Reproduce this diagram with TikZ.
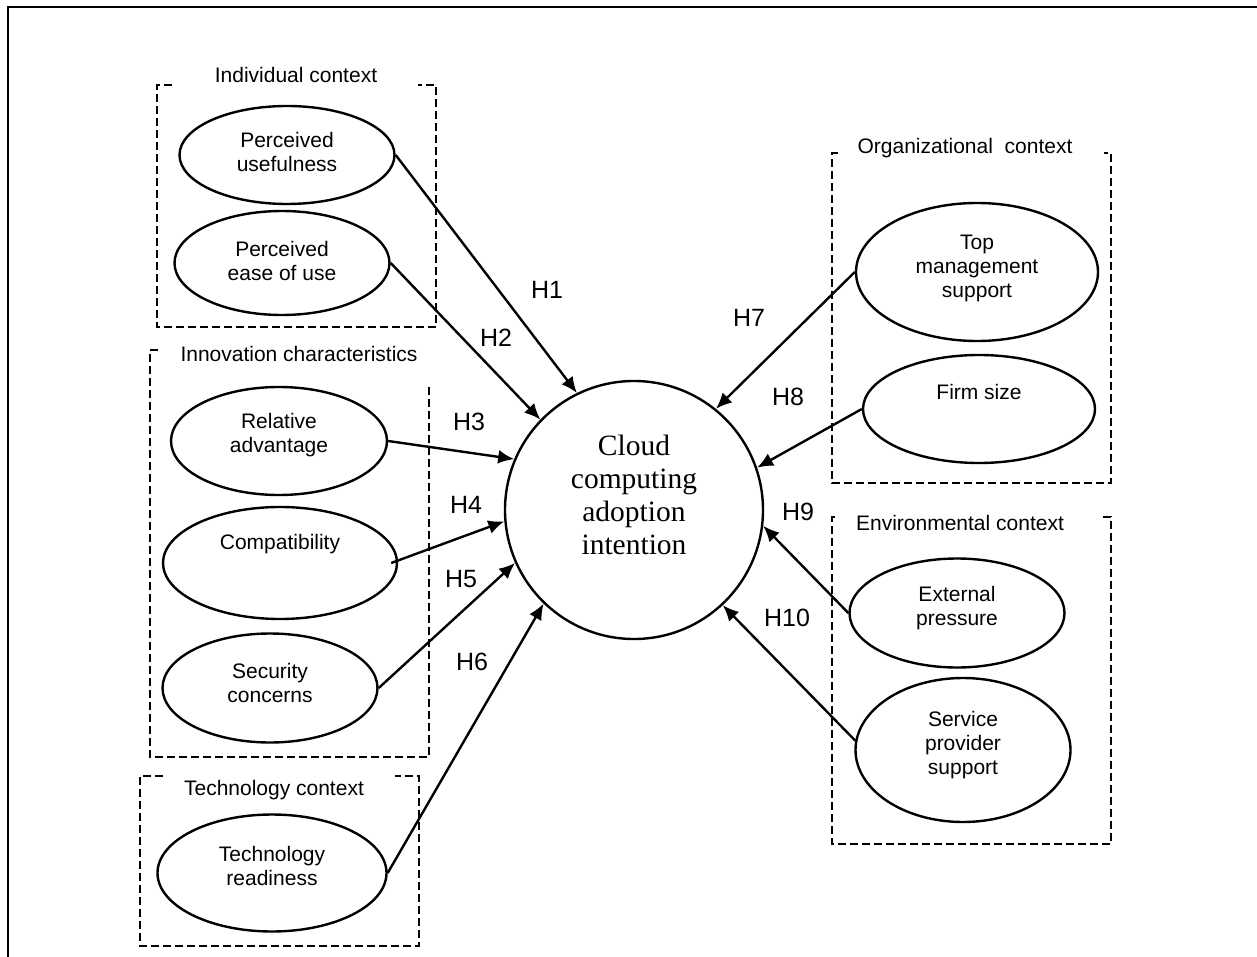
\documentclass[tikz,border=0pt]{standalone}
\usepackage{fontspec}
\setmainfont{Liberation Sans}
\newfontfamily\timesfont{Liberation Serif}
\usetikzlibrary{arrows.meta,shapes.geometric}
\tikzset{
  ell/.style={draw, ellipse, line width=2.4pt, inner sep=0pt},
  etext/.style={align=center, inner sep=0pt, font=\fontsize{21}{24}\selectfont},
  hlab/.style={inner sep=0pt, font=\fontsize{25}{29}\selectfont},
  grp/.style={line width=2.4pt, dash pattern=on 8pt off 4pt},
  glab/.style={inner sep=0pt, font=\fontsize{21}{24}\selectfont},
  conn/.style={line width=2.4pt, -{Latex[length=16pt,width=14pt]}},
}
\begin{document}
\begin{tikzpicture}[x=1pt,y=-1pt]
\useasboundingbox (0,0) rectangle (1257,957);
% outer frame (open)
\draw[line width=2.8pt] (8,957) -- (8,7) -- (1257,7);

% group boxes
\draw[grp] (172,85) -- (157,85) -- (157,327) -- (436,327) -- (436,85) -- (418,85);
\node[glab] (lind) at (296,75) {Individual context};
\draw[grp] (158,350) -- (150,350) -- (150,757) -- (429,757) -- (429,387);
\node[glab] (linn) at (299,354) {Innovation characteristics};
\draw[grp] (163,776) -- (140,776) -- (140,946) -- (419,946) -- (419,776) -- (395,776);
\node[glab] (ltec) at (274,790) {Technology context};
\draw[grp] (838,153) -- (832,153) -- (832,483) -- (1111,483) -- (1111,153) -- (1104,153);
\node[glab] (lorg) at (965,148) {Organizational\ \ context};
\draw[grp] (835,517) -- (832,517) -- (832,844) -- (1111,844) -- (1111,517) -- (1101,517);
\node[glab] (lenv) at (960,523) {Environmental context};

% central construct
\node[draw, circle, line width=2.4pt, minimum size=258pt, inner sep=0pt] (cc) at (634,510) {};
\node[align=center, inner sep=0pt, font=\timesfont\fontsize{29.5}{33}\selectfont] (cct) at (634,495) {Cloud\\computing\\adoption\\intention};

% ellipses
\node[ell, minimum width=215pt, minimum height=98pt] (pu) at (287,155) {};
\node[etext] (put) at (287,152) {Perceived\\usefulness};
\node[ell, minimum width=215pt, minimum height=104pt] (pe) at (282,263) {};
\node[etext] (pet) at (282,261) {Perceived\\ease of use};
\node[ell, minimum width=216pt, minimum height=108pt] (ra) at (279,441) {};
\node[etext] (rat) at (279,435) {Relative\\advantage};
\node[ell, minimum width=234pt, minimum height=112pt] (cp) at (280,563) {};
\node[etext] (cpt) at (280,544) {Compatibility};
\node[ell, minimum width=215pt, minimum height=109pt] (sc) at (270,688) {};
\node[etext] (sct) at (270,683) {Security\\concerns};
\node[ell, minimum width=229pt, minimum height=117pt] (tr) at (272,873) {};
\node[etext] (trt) at (272,866) {Technology\\readiness};
\node[ell, minimum width=242pt, minimum height=138pt] (tm) at (977,272) {};
\node[etext] (tmt) at (977,268) {Top\\management\\support};
\node[ell, minimum width=232pt, minimum height=108pt] (fs) at (979,409) {};
\node[etext] (fst) at (979,392) {Firm size};
\node[ell, minimum width=215pt, minimum height=109pt] (ep) at (957,613) {};
\node[etext] (ept) at (957,608) {External\\pressure};
\node[ell, minimum width=215pt, minimum height=144pt] (sp) at (963,750) {};
\node[etext] (spt) at (963,745) {Service\\provider\\support};

% connectors
\draw[conn] (pu.east) -- (cc.116.6);
\draw[conn] (pe.east) -- (cc.136.3);
\draw[conn] (ra.east) -- (cc.157.1);
\draw[conn] ([xshift=-7pt]cp.east) -- (cc.185.7);
\draw[conn] (sc.east) -- (cc.204.2);
\draw[conn] (tr.east) -- (cc.226.9);
\draw[conn] (tm.west) -- (cc.51.9);
\draw[conn] (fs.west) -- (cc.19.5);
\draw[conn] (ep.west) -- (cc.-7.8);
\draw[conn] (sp.175) -- (cc.-47.2);

% hypothesis labels
\node[hlab] (h1) at (547,290) {H1};
\node[hlab] (h2) at (496,338) {H2};
\node[hlab] (h3) at (469,422) {H3};
\node[hlab] (h4) at (466,505) {H4};
\node[hlab] (h5) at (461,579) {H5};
\node[hlab] (h6) at (472,662) {H6};
\node[hlab] (h7) at (749,318) {H7};
\node[hlab] (h8) at (788,397) {H8};
\node[hlab] (h9) at (798,512) {H9};
\node[hlab] (h10) at (787,618) {H10};
\end{tikzpicture}
\end{document}
